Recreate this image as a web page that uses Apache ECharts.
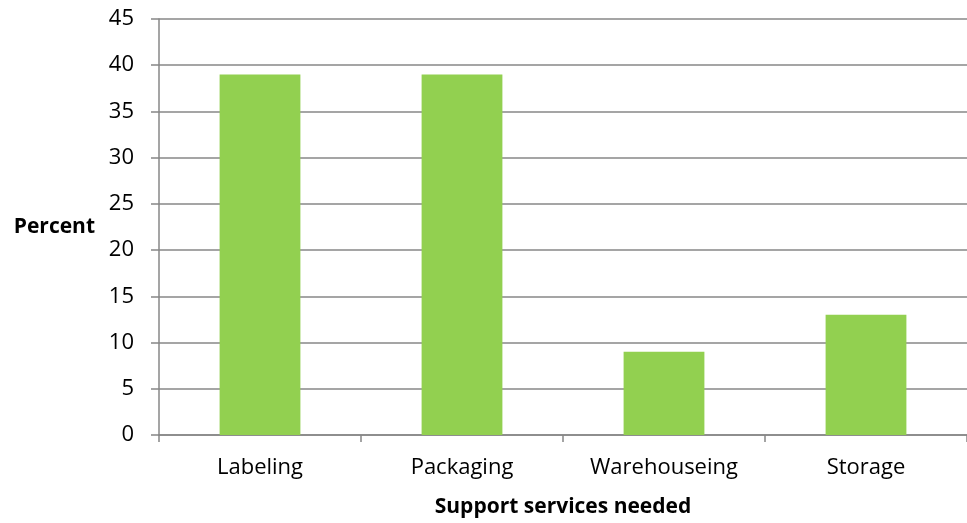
<!DOCTYPE html>
<html>
<head>
<meta charset="utf-8">
<script src="https://cdn.jsdelivr.net/npm/echarts@6/dist/echarts.min.js"></script>
<style>
  html, body { margin: 0; padding: 0; background: #fff; }
  #chart { width: 967px; height: 523px; }
</style>
</head>
<body>
<div id="chart"></div>
<script>
// Share of respondents needing each support service
const categories = ['Labeling', 'Packaging', 'Warehouseing', 'Storage'];
const percentValues = [39, 39, 9, 13];
const yTicks = { min: 0, max: 45, interval: 5 };

const axisGrey = '#878787';
const font = '"Open Sans", Lato, sans-serif';

const chart = echarts.init(document.getElementById('chart'));
chart.setOption({
  animation: false,
  grid: { left: 159, right: 0, top: 19, bottom: 88, containLabel: false, outerBoundsMode: 'none' },
  xAxis: {
    type: 'category',
    data: categories,
    name: 'Support services needed',
    nameLocation: 'middle',
    nameGap: 62,
    nameTextStyle: { fontFamily: font, fontWeight: 'bold', fontSize: 21, color: '#000' },
    axisLine: { lineStyle: { color: axisGrey, width: 1.5 } },
    axisTick: { show: true, length: 7, lineStyle: { color: axisGrey, width: 1.5 } },
    axisLabel: { fontFamily: font, fontSize: 22, color: '#000', margin: 22 }
  },
  yAxis: {
    type: 'value',
    min: yTicks.min,
    max: yTicks.max,
    interval: yTicks.interval,
    name: 'Percent',
    nameLocation: 'middle',
    nameRotate: 0,
    nameGap: 64,
    nameTextStyle: { fontFamily: font, fontWeight: 'bold', fontSize: 21, color: '#000' },
    axisLine: { show: true, lineStyle: { color: axisGrey, width: 1.5 } },
    axisTick: { show: true, length: 8, lineStyle: { color: axisGrey, width: 1.5 } },
    axisLabel: { fontFamily: font, fontSize: 22, color: '#000', margin: 25 },
    splitLine: { lineStyle: { color: axisGrey, width: 1.5 } }
  },
  series: [{
    type: 'bar',
    data: percentValues,
    barWidth: '40%',
    itemStyle: { color: '#92D050' }
  }]
});
</script>
</body>
</html>
